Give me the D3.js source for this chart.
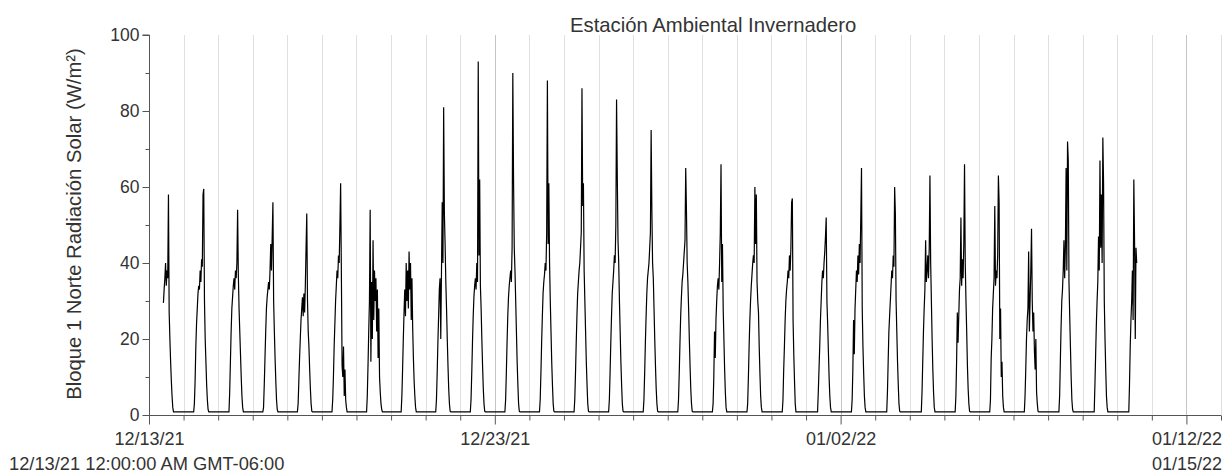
<!DOCTYPE html>
<html><head><meta charset="utf-8">
<script src="https://cdn.jsdelivr.net/npm/d3@7"></script>
<style>
body{margin:0;background:#fff}
svg{display:block}
text{font-family:"Liberation Sans",Arial,sans-serif;fill:#333}
</style>
</head><body>
<svg id="c" width="1227" height="473"></svg>
<script>
const chartTitle = "Estación Ambiental Invernadero";
const yAxisLabel = "Bloque 1 Norte Radiación Solar (W/m²)";
const rangeStartLabel = "12/13/21 12:00:00 AM GMT-06:00";
const rangeEndLabel = "01/15/22";
const firstDay = "2021-12-13";
const lastDay = "2022-01-13";
const xTickDates = ["2021-12-13", "2021-12-23", "2022-01-02", "2022-01-12"];
const xTickLabels = ["12/13/21", "12/23/21", "01/02/22", "01/12/22"];
const yTicks = [0, 20, 40, 60, 80, 100];
const yMinorTicks = [10, 30, 50, 70, 90];
// sample times of day (hours) for each daily record
const sampleHours = [6.5, 7, 7.5, 8, 8.5, 9, 9.5, 10, 10.5, 11, 11.5, 12, 12.5, 13, 13.5, 14, 14.5, 15, 15.5, 16, 16.5, 17, 17.5, 18];
// solar radiation (W/m²) per day, one value per sample hour (null = no record)
const dayValues = [
  [null, null, null, null, null, null, null, 29.5, 33, 36, 40, 34, 38, 36, 58, 27, 20, 14, 9, 5, 2, .8, .8, .8],
  [.8, .8, 3, 9, 18, 24, 28, 32, 34, 33, 38, 35, 41, 39, 58, 59.5, 30, 20, 14, 8, 4, 1.5, .8, .8],
  [.8, .8, .8, 6, 14, 22, 28, 31, 34, 36, 33, 38, 36, 40, 54, 37, 28, 22, 16, 10, 5, 2, .8, .8],
  [.8, .8, 2, 8, 15, 22, 28, 31, 33, 35, 33, 38, 45, 38, 47, 56, 30, 22, 15, 9, 4, 1.5, .8, .8],
  [.8, .8, 3, 9, 15, 20, 25, 28, 31, 26, 32, 27, 34, 44, 53, 30, 22, 18, 12, 7, 3, 1, .8, .8],
  [.8, .8, 4, 10, 18, 24, 30, 34, 38, 36, 42, 40, 50, 61, 38, 13, 10, 18, 5, 12, 4, 2, .8, .8],
  [.8, .8, 5, 13, 22, 30, 54, 14, 35, 20, 46, 25, 38, 30, 36, 22, 33, 15, 28, 10, 6, 3, 1.5, .8],
  [.8, .8, 5, 12, 20, 27, 33, 26, 40, 30, 38, 28, 43, 33, 40, 25, 36, 23, 15, 9, 5, 2, .8, .8],
  [.8, .8, 4, 11, 19, 26, 33, 36, 20, 38, 56, 40, 81, 53, 45, 35, 28, 20, 13, 7, 3, 1, .8, .8],
  [.8, .8, 4, 11, 19, 26, 31, 34, 36, 33, 40, 35, 93, 42, 62, 34, 28, 20, 13, 7, 3, 1, .8, .8],
  [.8, .8, 4, 11, 19, 26, 31, 34, 36, 38, 35, 44, 90, 62, 44, 38, 30, 22, 14, 8, 3, 1, .8, .8],
  [.8, .8, 4, 11, 19, 26, 32, 35, 37, 40, 38, 48, 88, 45, 61, 40, 30, 22, 14, 8, 3, 1, .8, .8],
  [.8, .8, 4, 11, 19, 26, 32, 35, 38, 40, 44, 48, 86, 55, 61, 38, 30, 22, 14, 8, 3, 1, .8, .8],
  [.8, .8, 4, 11, 19, 26, 32, 35, 38, 42, 40, 50, 83, 63, 46, 40, 30, 22, 14, 8, 3, 1, .8, .8],
  [.8, .8, 4, 11, 19, 26, 32, 36, 38, 40, 44, 48, 75, 54, 40, 36, 28, 20, 13, 7, 3, 1, .8, .8],
  [.8, .8, 4, 11, 19, 26, 31, 35, 37, 40, 43, 46, 65, 54, 40, 35, 28, 20, 13, 7, 3, 1, .8, .8],
  [.8, .8, 3, 10, 22, 15, 25, 30, 34, 36, 33, 40, 48, 66, 35, 45, 28, 20, 12, 6, 2, .8, .8, .8],
  [.8, .8, 3, 10, 18, 25, 30, 34, 37, 40, 42, 40, 60, 45, 58, 35, 30, 27, 18, 11, 5, 2, .8, .8],
  [.8, .8, .8, 4, 12, 18, 25, 30, 33, 35, 38, 36, 42, 38, 44, 56, 57, 25, 16, 9, 3, .8, .8, .8],
  [.8, .8, .8, .8, 6, 12, 18, 25, 30, 35, 38, 36, 40, 43, 47, 52, 30, 24, 17, 10, 5, 2, .8, .8],
  [.8, .8, .8, 4, 12, 25, 16, 28, 33, 38, 35, 42, 37, 45, 40, 52, 65, 28, 18, 11, 5, 2, .8, .8],
  [.8, .8, .8, .8, 6, 14, 22, 26, 30, 34, 38, 36, 42, 39, 60, 53, 30, 22, 14, 8, 3, 1, .8, .8],
  [.8, .8, .8, .8, 6, 14, 22, 28, 33, 46, 35, 38, 42, 36, 44, 63, 40, 30, 20, 12, 6, 2, .8, .8],
  [.8, .8, .8, 5, 14, 27, 19, 26, 33, 36, 52, 34, 41, 36, 45, 66, 40, 30, 22, 13, 7, 3, 1, .8],
  [.8, .8, .8, 4, 15, 20, 28, 32, 36, 55, 34, 38, 36, 42, 63, 56, 20, 28, 10, 14, 5, 2, .8, .8],
  [.8, .8, .8, 5, 12, 20, 25, 28, 43, 22, 30, 38, 49, 30, 22, 27, 17, 12, 20, 6, 3, 1, .8, .8],
  [.8, .8, .8, 5, 14, 23, 30, 33, 38, 46, 36, 44, 65, 38, 72, 67, 35, 26, 18, 10, 4, 1.5, .8, .8],
  [.8, .8, .8, .8, 8, 16, 24, 30, 35, 47, 38, 67, 44, 58, 40, 73, 61, 30, 20, 12, 5, 2, .8, .8],
  [.8, .8, .8, .8, 8, 18, 25, 30, 38, 25, 62, 46, 20, 44, 40, null, null, null, null, null, null, null, null, null]
];

const parseDay = d3.timeParse("%Y-%m-%d");
const W = 1227, H = 473;
const m = {left: 149, right: 6, top: 35, bottom: 58};
const svg = d3.select("#c");

const x = d3.scaleTime().domain([parseDay(firstDay), parseDay(lastDay)]).range([m.left, W - m.right]);
const y = d3.scaleLinear().domain([0, 100]).range([H - m.bottom, m.top]);

const start = parseDay(firstDay);
const points = [];
dayValues.forEach((vals, d) => {
  const day = d3.timeDay.offset(start, d);
  vals.forEach((v, i) => {
    if (v === null) return;
    points.push({t: new Date(day.getTime() + sampleHours[i] * 3600e3), v});
  });
});

const allDays = d3.timeDay.range(parseDay(firstDay), d3.timeDay.offset(parseDay(lastDay), 1));
const majorSet = new Set(xTickDates.map(s => +parseDay(s)));

// grid
svg.append("g").selectAll("line").data(allDays.filter(d => +d !== +start)).join("line")
  .attr("x1", d => Math.round(x(d)) + 0.5).attr("x2", d => Math.round(x(d)) + 0.5)
  .attr("y1", y(100)).attr("y2", y(0))
  .attr("stroke", d => majorSet.has(+d) ? "#c4c4c4" : "#e0e0e0")
  .attr("stroke-width", 1);

// data line
svg.append("path").datum(points)
  .attr("fill", "none").attr("stroke", "#000").attr("stroke-width", 1.2)
  .attr("stroke-linejoin", "miter")
  .attr("d", d3.line().x(d => x(d.t)).y(d => y(d.v)));

// y axis
const yAxis = svg.append("g").attr("transform", `translate(${m.left + 0.5},0)`)
  .call(d3.axisLeft(y).tickValues(yTicks).tickSize(7).tickPadding(3).tickFormat(d3.format("d")));
yAxis.selectAll(".tick text").style("font-size", "17.5px").attr("fill", "#333");
yAxis.selectAll("line,path").attr("stroke", "#555");
const yMinor = svg.append("g").attr("transform", `translate(${m.left + 0.5},0)`)
  .call(d3.axisLeft(y).tickValues(yMinorTicks).tickSize(4).tickFormat(""));
yMinor.select(".domain").remove();
yMinor.selectAll("line").attr("stroke", "#555");
yAxis.select(".domain").attr("d", `M-7,${y(100)}H0V${y(0)}`);

// x axis
const xAxis = svg.append("g").attr("transform", `translate(0,${y(0) + 0.5})`)
  .call(d3.axisBottom(x).tickValues(xTickDates.map(parseDay)).tickSize(9).tickPadding(8)
    .tickFormat((d, i) => xTickLabels[i]));
xAxis.selectAll(".tick text").style("font-size", "18px").attr("fill", "#333");
xAxis.selectAll("line,path").attr("stroke", "#555");
xAxis.select(".domain").attr("d", `M${m.left},0H${W - m.right}`);
const xMinor = svg.append("g").attr("transform", `translate(0,${y(0) + 0.5})`)
  .call(d3.axisBottom(x).tickValues(allDays.filter(d => !majorSet.has(+d))).tickSize(5).tickFormat(""));
xMinor.select(".domain").remove();
xMinor.selectAll("line").attr("stroke", "#555");

// labels
svg.append("text").attr("x", 570).attr("y", 32).style("font-size", "20.3px").text(chartTitle);
svg.append("text").attr("transform", `translate(81,${(y(0) + y(100)) / 2 - 1}) rotate(-90)`)
  .attr("text-anchor", "middle").style("font-size", "20.3px").text(yAxisLabel);
svg.append("text").attr("x", 9).attr("y", 470).style("font-size", "18.3px").text(rangeStartLabel);
svg.append("text").attr("x", 1222).attr("y", 470).attr("text-anchor", "end").style("font-size", "18px").text(rangeEndLabel);
</script>
</body></html>
